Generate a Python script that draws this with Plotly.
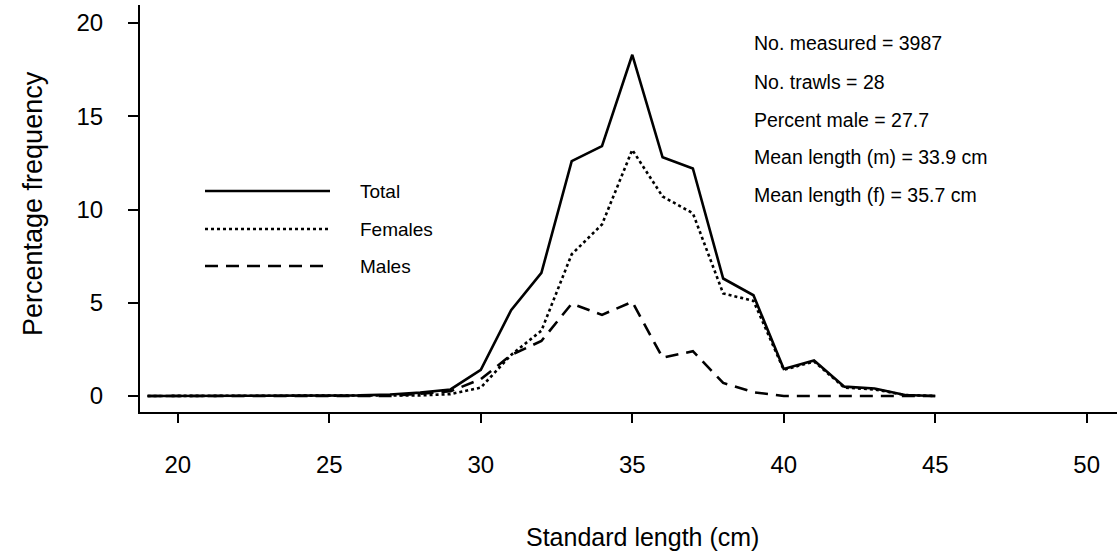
import plotly.graph_objects as go

# Data
length_cm = list(range(19, 46))
total = [0, 0, 0, 0, 0, 0, 0.02, 0.03, 0.08, 0.18, 0.35, 1.4, 4.6, 6.6, 12.6, 13.4,
         18.3, 12.8, 12.2, 6.3, 5.4, 1.45, 1.9, 0.5, 0.4, 0.05, 0]
females = [0, 0, 0, 0, 0, 0, 0, 0, 0, 0.03, 0.1, 0.45, 2.2, 3.5, 7.6, 9.2,
           13.2, 10.7, 9.8, 5.5, 5.1, 1.4, 1.85, 0.45, 0.35, 0.05, 0]
males = [0, 0, 0, 0, 0, 0, 0, 0, 0, 0.12, 0.25, 0.9, 2.2, 2.95, 4.95, 4.35,
         5.05, 2.05, 2.4, 0.7, 0.2, 0, 0, 0, 0, 0, 0]

x_ticks = [20, 25, 30, 35, 40, 45, 50]
y_ticks = [0, 5, 10, 15, 20]

series_names = ["Total", "Females", "Males"]
series_dash = ["solid", "3px,3px", "13px,8px"]

stats_text = [
    "No. measured = 3987",
    "No. trawls = 28",
    "Percent male = 27.7",
    "Mean length (m) = 33.9 cm",
    "Mean length (f) = 35.7 cm",
]

FONT = "Liberation Sans, Arial, sans-serif"
W, H = 1117, 552
L, R, T, B = 140, 0, 5, 140
PW, PH = W - L - R, H - T - B


def px(x):
    return (x - L) / PW


def py(y):
    return (H - B - y) / PH


fig = go.Figure()
for name, vals, dash in zip(series_names, [total, females, males], series_dash):
    fig.add_trace(go.Scatter(
        x=length_cm, y=vals, mode="lines", name=name,
        line=dict(color="black", width=2.6, dash=dash),
        showlegend=False,
    ))

# Legend drawn inside the plot (long line samples as in the original)
legend_y = [191, 229, 266]
shapes = []
annotations = []
for name, dash, ly in zip(series_names, series_dash, legend_y):
    shapes.append(dict(type="line", xref="paper", yref="paper",
                       x0=px(205), x1=px(330), y0=py(ly), y1=py(ly),
                       line=dict(color="black", width=2.4, dash=dash)))
    annotations.append(dict(xref="paper", yref="paper", x=px(358), y=py(ly),
                            text=name, showarrow=False, xanchor="left",
                            yanchor="middle",
                            font=dict(family=FONT, size=19, color="black")))

stats_y = [43, 82, 120, 157, 195]
for txt, sy in zip(stats_text, stats_y):
    annotations.append(dict(xref="paper", yref="paper", x=px(752), y=py(sy),
                            text=txt, showarrow=False, xanchor="left",
                            yanchor="middle",
                            font=dict(family=FONT, size=19.5, color="black")))

# Axis titles
annotations.append(dict(xref="paper", yref="paper", x=px(642), y=py(537),
                        text="Standard length (cm)", showarrow=False,
                        xanchor="center", yanchor="middle",
                        font=dict(family=FONT, size=25, color="black")))
annotations.append(dict(xref="paper", yref="paper", x=px(33), y=py(204),
                        text="Percentage frequency", showarrow=False,
                        xanchor="center", yanchor="middle", textangle=-90,
                        font=dict(family=FONT, size=27, color="black")))

fig.update_layout(
    width=W, height=H,
    margin=dict(l=L, r=R, t=T, b=B),
    paper_bgcolor="white", plot_bgcolor="white",
    font=dict(family=FONT, color="black"),
    shapes=shapes, annotations=annotations,
    showlegend=False,
)
fig.update_xaxes(
    range=[18.75, 51], tickvals=x_ticks, ticktext=[str(v) for v in x_ticks],
    showline=True, linecolor="black", linewidth=2.2, mirror=False,
    ticks="outside", ticklen=9, tickwidth=1.6, tickcolor="black",
    showgrid=False, zeroline=False,
    tickfont=dict(family=FONT, size=24, color="black"),
    ticklabelstandoff=21,
)
fig.update_yaxes(
    range=[-0.86, 20.97], tickvals=y_ticks, ticktext=[str(v) for v in y_ticks],
    showline=True, linecolor="black", linewidth=2.2, mirror=False,
    ticks="outside", ticklen=10, tickwidth=1.6, tickcolor="black",
    showgrid=False, zeroline=False,
    tickfont=dict(family=FONT, size=24, color="black"),
    ticklabelstandoff=20,
)

fig.write_html("out.html")
